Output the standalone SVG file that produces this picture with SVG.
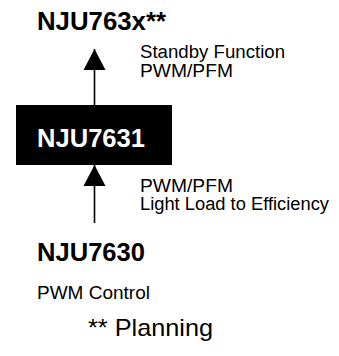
<svg xmlns="http://www.w3.org/2000/svg" width="339" height="356" viewBox="0 0 339 356">
<style>
.b{font-family:"Liberation Sans",Arial,sans-serif;font-weight:bold;font-size:25px;fill:#000}
.r{font-family:"Liberation Sans",Arial,sans-serif;font-size:19px;fill:#000}
.ln{stroke:#000;stroke-width:1.6;fill:none}
</style>
<defs>
<marker id="ah" markerUnits="userSpaceOnUse" markerWidth="22" markerHeight="23" refX="21" refY="11" orient="auto" viewBox="0 0 22 22">
<path d="M0,0 L21,11 L0,22 Z" fill="#000"/>
</marker>
</defs>
<rect width="339" height="356" fill="#fff"/>
<g id="connectors">
<line class="ln" x1="94.5" y1="105" x2="94.5" y2="49" marker-end="url(#ah)"/>
<line class="ln" x1="94.5" y1="223" x2="94.5" y2="165" marker-end="url(#ah)"/>
</g>
<g id="node-nju763x">
<text class="b" x="37" y="30" textLength="129" lengthAdjust="spacingAndGlyphs">NJU763x**</text>
</g>
<g id="label-upper">
<text class="r" x="140" y="58" style="font-size:18px" textLength="145" lengthAdjust="spacingAndGlyphs">Standby Function</text>
<text class="r" x="140" y="77" textLength="93" lengthAdjust="spacingAndGlyphs">PWM/PFM</text>
</g>
<g id="node-nju7631">
<rect x="16" y="105" width="156" height="60" fill="#000"/>
<text class="b" x="37" y="147" style="fill:#fff" textLength="108" lengthAdjust="spacingAndGlyphs">NJU7631</text>
</g>
<g id="label-lower">
<text class="r" x="140" y="192" textLength="93" lengthAdjust="spacingAndGlyphs">PWM/PFM</text>
<text class="r" x="140" y="210" style="font-size:18px" textLength="189" lengthAdjust="spacingAndGlyphs">Light Load to Efficiency</text>
</g>
<g id="node-nju7630">
<text class="b" x="37" y="261" textLength="108" lengthAdjust="spacingAndGlyphs">NJU7630</text>
<text class="r" x="37" y="299" textLength="113" lengthAdjust="spacingAndGlyphs">PWM Control</text>
</g>
<g id="note">
<text class="r" x="88" y="336" style="font-size:24px" textLength="125" lengthAdjust="spacingAndGlyphs">** Planning</text>
</g>
</svg>
